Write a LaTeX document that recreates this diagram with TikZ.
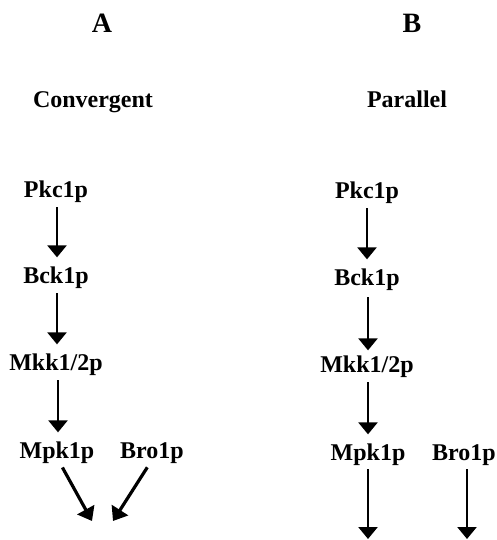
\documentclass[tikz,border=0pt]{standalone}
\usepackage{fontspec}
\setmainfont{Liberation Serif}
\usetikzlibrary{arrows.meta}
\begin{document}
\begin{tikzpicture}[x=1pt,y=-1pt,
  lbl/.style={font=\fontsize{24}{28}\selectfont\bfseries, anchor=base, inner sep=0pt, outer sep=0pt},
  panel/.style={font=\fontsize{28}{32}\selectfont\bfseries, anchor=base, inner sep=0pt},
  arr/.style={line width=2.5pt, -{Triangle[width=19pt,length=12pt]}},
  darr/.style={line width=3.2pt, -{Triangle[width=19pt,length=13pt]}},
  gap/.style={shorten <=5pt, shorten >=9pt}]
\useasboundingbox (0,0) rectangle (496,540);
% panel letters and titles
\node[panel] (A) at (102,33) {A};
\node[panel] (B) at (412,33) {B};
\node[lbl] (conv) at (93,108) {Convergent};
\node[lbl] (par) at (407,108) {Parallel};
% left column
\node[lbl] (pkcA) at (56,197) {Pkc1p};
\node[lbl] (bckA) at (56,283) {Bck1p};
\node[lbl] (mkkA) at (56,370) {Mkk1/2p};
\node[lbl] (mpkA) at (57,458) {Mpk1p};
\node[lbl] (broA) at (152,458) {Bro1p};
\coordinate (endA1) at (92,521);
\coordinate (endA2) at (113,521);
% right column
\node[lbl] (pkcB) at (367,198) {Pkc1p};
\node[lbl] (bckB) at (367,285) {Bck1p};
\node[lbl] (mkkB) at (367,372) {Mkk1/2p};
\node[lbl] (mpkB) at (368,460) {Mpk1p};
\node[lbl] (broB) at (464,460) {Bro1p};
\coordinate (endB1) at (368,539);
\coordinate (endB2) at (467,539);
% arrows left
\draw[arr,gap] (pkcA.south -| 57,0) -- (bckA.north -| 57,0);
\draw[arr,gap] (bckA.south -| 57,0) -- (mkkA.north -| 57,0);
\draw[arr,gap] (mkkA.south -| 58,0) -- (mpkA.north -| 58,0);
\draw[darr,shorten <=5pt] (mpkA.south -| 60,0) -- (endA1);
\draw[darr,shorten <=5pt] (broA.south -| 150,0) -- (endA2);
% arrows right
\draw[arr,gap] (pkcB.south -| 367,0) -- (bckB.north -| 367,0);
\draw[arr,shorten <=7pt, shorten >=5pt] (bckB.south -| 368,0) -- (mkkB.north -| 368,0);
\draw[arr,gap] (mkkB.south -| 368,0) -- (mpkB.north -| 368,0);
\draw[arr,shorten <=4pt] (mpkB.south -| 368,0) -- (endB1);
\draw[arr,shorten <=4pt] (broB.south -| 467,0) -- (endB2);
\end{tikzpicture}
\end{document}
